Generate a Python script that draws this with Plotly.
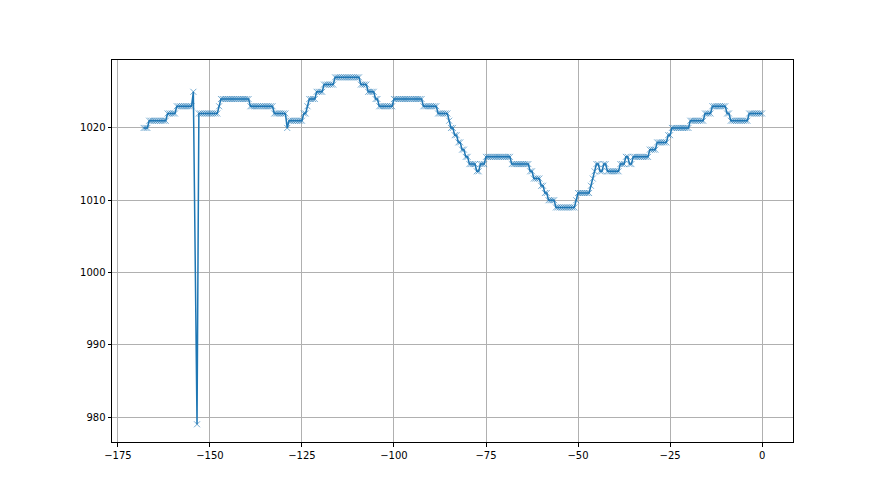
import plotly.graph_objects as go

# Half-hourly readings (hours relative to now); one reading missing at -154
hours = [
    -168, -167.5, -167, -166.5, -166, -165.5, -165, -164.5, -164, -163.5, -163, -162.5, -162, -161.5, -161, -160.5,
    -160, -159.5, -159, -158.5, -158, -157.5, -157, -156.5, -156, -155.5, -155, -154.5, -153.5, -153, -152.5,
    -152, -151.5, -151, -150.5, -150, -149.5, -149, -148.5, -148, -147.5, -147, -146.5, -146, -145.5, -145, -144.5,
    -144, -143.5, -143, -142.5, -142, -141.5, -141, -140.5, -140, -139.5, -139, -138.5, -138, -137.5, -137, -136.5,
    -136, -135.5, -135, -134.5, -134, -133.5, -133, -132.5, -132, -131.5, -131, -130.5, -130, -129.5, -129, -128.5,
    -128, -127.5, -127, -126.5, -126, -125.5, -125, -124.5, -124, -123.5, -123, -122.5, -122, -121.5, -121, -120.5,
    -120, -119.5, -119, -118.5, -118, -117.5, -117, -116.5, -116, -115.5, -115, -114.5, -114, -113.5, -113, -112.5,
    -112, -111.5, -111, -110.5, -110, -109.5, -109, -108.5, -108, -107.5, -107, -106.5, -106, -105.5, -105, -104.5,
    -104, -103.5, -103, -102.5, -102, -101.5, -101, -100.5, -100, -99.5, -99, -98.5, -98, -97.5, -97, -96.5,
    -96, -95.5, -95, -94.5, -94, -93.5, -93, -92.5, -92, -91.5, -91, -90.5, -90, -89.5, -89, -88.5,
    -88, -87.5, -87, -86.5, -86, -85.5, -85, -84.5, -84, -83.5, -83, -82.5, -82, -81.5, -81, -80.5,
    -80, -79.5, -79, -78.5, -78, -77.5, -77, -76.5, -76, -75.5, -75, -74.5, -74, -73.5, -73, -72.5,
    -72, -71.5, -71, -70.5, -70, -69.5, -69, -68.5, -68, -67.5, -67, -66.5, -66, -65.5, -65, -64.5,
    -64, -63.5, -63, -62.5, -62, -61.5, -61, -60.5, -60, -59.5, -59, -58.5, -58, -57.5, -57, -56.5,
    -56, -55.5, -55, -54.5, -54, -53.5, -53, -52.5, -52, -51.5, -51, -50.5, -50, -49.5, -49, -48.5,
    -48, -47.5, -47, -46.5, -46, -45.5, -45, -44.5, -44, -43.5, -43, -42.5, -42, -41.5, -41, -40.5,
    -40, -39.5, -39, -38.5, -38, -37.5, -37, -36.5, -36, -35.5, -35, -34.5, -34, -33.5, -33, -32.5,
    -32, -31.5, -31, -30.5, -30, -29.5, -29, -28.5, -28, -27.5, -27, -26.5, -26, -25.5, -25, -24.5,
    -24, -23.5, -23, -22.5, -22, -21.5, -21, -20.5, -20, -19.5, -19, -18.5, -18, -17.5, -17, -16.5,
    -16, -15.5, -15, -14.5, -14, -13.5, -13, -12.5, -12, -11.5, -11, -10.5, -10, -9.5, -9, -8.5,
    -8, -7.5, -7, -6.5, -6, -5.5, -5, -4.5, -4, -3.5, -3, -2.5, -2, -1.5, -1, -0.5,
    0,
]

pressure = [
    1020, 1020, 1020, 1021, 1021, 1021, 1021, 1021, 1021, 1021, 1021, 1021, 1021, 1022, 1022, 1022,
    1022, 1022, 1023, 1023, 1023, 1023, 1023, 1023, 1023, 1023, 1023, 1025, 979, 1022, 1022,
    1022, 1022, 1022, 1022, 1022, 1022, 1022, 1022, 1022, 1023, 1024, 1024, 1024, 1024, 1024, 1024,
    1024, 1024, 1024, 1024, 1024, 1024, 1024, 1024, 1024, 1024, 1023, 1023, 1023, 1023, 1023, 1023,
    1023, 1023, 1023, 1023, 1023, 1023, 1023, 1022, 1022, 1022, 1022, 1022, 1022, 1022, 1020, 1021,
    1021, 1021, 1021, 1021, 1021, 1021, 1021, 1022, 1022, 1023, 1024, 1024, 1024, 1024, 1025, 1025,
    1025, 1025, 1026, 1026, 1026, 1026, 1026, 1026, 1027, 1027, 1027, 1027, 1027, 1027, 1027, 1027,
    1027, 1027, 1027, 1027, 1027, 1027, 1026, 1026, 1026, 1026, 1025, 1025, 1025, 1025, 1024, 1024,
    1023, 1023, 1023, 1023, 1023, 1023, 1023, 1023, 1024, 1024, 1024, 1024, 1024, 1024, 1024, 1024,
    1024, 1024, 1024, 1024, 1024, 1024, 1024, 1024, 1023, 1023, 1023, 1023, 1023, 1023, 1023, 1023,
    1022, 1022, 1022, 1022, 1022, 1022, 1021, 1020, 1020, 1019, 1019, 1018, 1018, 1017, 1017, 1016,
    1016, 1015, 1015, 1015, 1015, 1014, 1014, 1015, 1015, 1015, 1016, 1016, 1016, 1016, 1016, 1016,
    1016, 1016, 1016, 1016, 1016, 1016, 1016, 1016, 1015, 1015, 1015, 1015, 1015, 1015, 1015, 1015,
    1015, 1015, 1014, 1014, 1013, 1013, 1013, 1013, 1012, 1012, 1011, 1011, 1010, 1010, 1010, 1010,
    1009, 1009, 1009, 1009, 1009, 1009, 1009, 1009, 1009, 1009, 1009, 1010, 1011, 1011, 1011, 1011,
    1011, 1011, 1011, 1012, 1013, 1014, 1015, 1015, 1014, 1014, 1015, 1015, 1014, 1014, 1014, 1014,
    1014, 1014, 1014, 1015, 1015, 1015, 1016, 1016, 1015, 1015, 1016, 1016, 1016, 1016, 1016, 1016,
    1016, 1016, 1016, 1017, 1017, 1017, 1017, 1018, 1018, 1018, 1018, 1018, 1018, 1019, 1019, 1020,
    1020, 1020, 1020, 1020, 1020, 1020, 1020, 1020, 1020, 1021, 1021, 1021, 1021, 1021, 1021, 1021,
    1021, 1022, 1022, 1022, 1022, 1023, 1023, 1023, 1023, 1023, 1023, 1023, 1023, 1022, 1022, 1021,
    1021, 1021, 1021, 1021, 1021, 1021, 1021, 1021, 1021, 1022, 1022, 1022, 1022, 1022, 1022, 1022,
    1022,
]

x_ticks = [-175, -150, -125, -100, -75, -50, -25, 0]
y_ticks = [980, 990, 1000, 1010, 1020]

fig = go.Figure()
fig.add_trace(go.Scatter(
    x=hours, y=pressure, mode="lines+markers",
    line=dict(color="#1f77b4", width=1.5),
    marker=dict(symbol="x-thin", size=6, line=dict(width=1, color="rgba(31,119,180,0.6)")),
    showlegend=False,
))

axis_common = dict(
    showline=True, linecolor="black", linewidth=1, mirror=True,
    showgrid=True, gridcolor="#b0b0b0", gridwidth=0.8,
    ticks="outside", ticklen=3.5, tickwidth=0.8, tickcolor="black",
    tickfont=dict(family="DejaVu Sans", size=10, color="black"),
    zeroline=False,
)

fig.update_layout(
    width=880, height=495,
    margin=dict(l=104, r=95, t=52, b=61),
    paper_bgcolor="white", plot_bgcolor="white",
    xaxis=dict(range=[-176.6, 8.4], tickvals=x_ticks, **axis_common),
    yaxis=dict(range=[976.55, 1029.4], tickvals=y_ticks, **axis_common),
)

fig.write_html("out.html")
